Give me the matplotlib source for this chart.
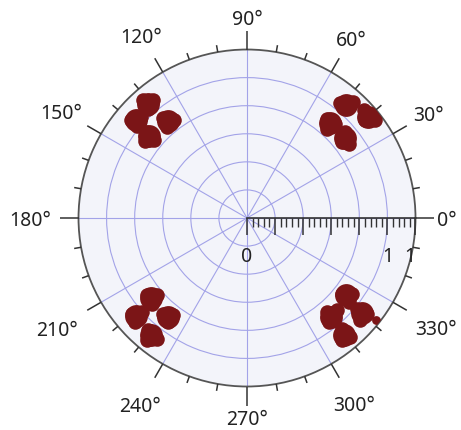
import numpy as np
import matplotlib.pyplot as plt
from matplotlib.ticker import MultipleLocator

plt.rcParams['font.family'] = ['Noto Sans', 'DejaVu Sans']

# Центри чотирьох пелюсток у кожному квадранті: азимут (градуси) і радіус (0..1)
lobe_theta = [131.0, 138.6, 129.2, 140.1,
              48.8, 39.9, 48.9, 39.2,
              219.8, 221.4, 231.4, 230.6,
              322.1, 310.3, 320.4, 309.7]
lobe_r = [0.896, 0.879, 0.742, 0.758,
          0.892, 0.935, 0.749, 0.751,
          0.742, 0.879, 0.752, 0.898,
          0.744, 0.770, 0.885, 0.902]

# Окремі полюси навколо пелюсток по квадрантах
ul_theta = [131.4, 128.5, 132.2, 139.8, 136.4, 140.1, 130.0, 126.7, 131.3, 139.6, 143.0, 140.0]
ul_r = [0.936, 0.898, 0.876, 0.904, 0.872, 0.854, 0.775, 0.727, 0.721, 0.790, 0.761, 0.722]

ur_theta = [51.0, 47.6, 47.7, 42.7, 39.7, 37.4, 51.1, 46.9, 48.0, 41.3, 38.7, 35.9]
ur_r = [0.878, 0.933, 0.882, 0.945, 0.910, 0.957, 0.755, 0.764, 0.710, 0.774, 0.722, 0.748]

ll_theta = [217.6, 220.6, 222.2, 219.9, 221.8, 222.9, 228.8, 232.7, 232.8, 228.5, 230.7, 233.4]
ll_r = [0.749, 0.703, 0.760, 0.889, 0.836, 0.907, 0.757, 0.724, 0.775, 0.887, 0.936, 0.895]

lr_theta = [321.3, 324.1, 320.5, 310.4, 314.4, 308.3, 320.4, 321.3, 317.9, 310.6, 307.9, 310.9]
lr_r = [0.722, 0.769, 0.784, 0.732, 0.764, 0.786, 0.847, 0.912, 0.903, 0.867, 0.918, 0.934]

# окрема маленька точка біля краю
lr_extra_theta = [321.7]
lr_extra_r = [0.976]

# підписи кутів і радіальної осі
angle_ticks = list(range(0, 360, 30))
r_ticks = [0, 1/6, 2/6, 3/6, 4/6, 5/6, 1]
r_labels = ['0', '', '', '', '', '1', '1']

# відстань центру підпису кута від центру кола, пікселі
label_dist = [200, 210, 208, 201, 212, 215, 217, 219, 215, 199, 214, 218]

R_PX = 168.5  # радіус кола в пікселях

fig = plt.figure(figsize=(4.61, 4.31), dpi=100)
ax = fig.add_axes([0.1703, 0.1009, 0.7310, 0.7819], projection='polar')
ax.set_facecolor('#F3F4FA')
ax.set_ylim(0, 1)

ax.set_xticks(np.deg2rad(angle_ticks))
ax.set_xticklabels([])
ax.set_yticks(r_ticks[1:-1])
ax.set_yticklabels([])
ax.grid(True, color='#A3A3E8', linewidth=0.8)
ax.spines['polar'].set_color('#555555')
ax.spines['polar'].set_linewidth(1.3)

# зовнішні риски кожні 10 градусів
for a in range(0, 360, 10):
    if a % 90 == 0:
        L = 19
    elif a % 30 == 0:
        L = 16
    else:
        L = 7
    t = np.deg2rad(a)
    ax.plot([t, t], [1, 1 + L / R_PX], color='#333333', linewidth=1.1,
            clip_on=False, solid_capstyle='butt', zorder=4)

# кольорові плями полюсів
red = '#7B1517'
ax.scatter(np.deg2rad(lobe_theta), lobe_r, s=270, color=red, linewidths=0, zorder=3)
for th, rr in [(ul_theta, ul_r), (ur_theta, ur_r), (ll_theta, ll_r), (lr_theta, lr_r)]:
    ax.scatter(np.deg2rad(th), rr, s=110, color=red, linewidths=0, zorder=3)
ax.scatter(np.deg2rad(lr_extra_theta), lr_extra_r, s=40, color=red, linewidths=0, zorder=3)

# підписи градусів навколо кола
for a, d in zip(angle_ticks, label_dist):
    t = np.deg2rad(a)
    off = (d - R_PX) * 0.72
    ax.annotate(f'{a}°', xy=(t, 1), xytext=(off * np.cos(t), off * np.sin(t) - 1.5),
                textcoords='offset points', ha='center', va='center',
                fontsize=14, color='#222222', annotation_clip=False)

# радіальна шкала від центру вправо
ax2 = fig.add_axes([0.5358, 0.4919, 0.3655, 0.0001])
ax2.patch.set_visible(False)
for side in ['left', 'right', 'top']:
    ax2.spines[side].set_visible(False)
ax2.spines['bottom'].set_color('#333333')
ax2.spines['bottom'].set_linewidth(1.2)
ax2.set_yticks([])
ax2.set_xlim(0, 1)
ax2.set_xticks(r_ticks)
ax2.set_xticklabels(r_labels, fontsize=14, color='#222222')
ax2.xaxis.set_minor_locator(MultipleLocator(1/30))
ax2.tick_params(axis='x', which='major', direction='out', length=12.5, width=1.1,
                color='#333333', pad=7.5)
ax2.tick_params(axis='x', which='minor', direction='out', length=6.5, width=1.0,
                color='#333333')
ax2.get_xticklabels()[-1].set_ha('right')

fig.savefig('out.png', dpi=100)
